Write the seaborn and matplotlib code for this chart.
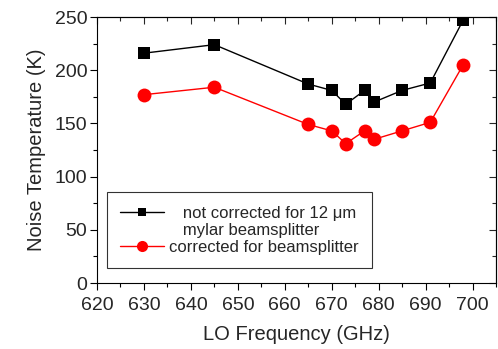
import pandas as pd
import numpy as np
import matplotlib
matplotlib.use('Agg')
import matplotlib.pyplot as plt
import seaborn as sns
from matplotlib.ticker import MultipleLocator
from matplotlib.lines import Line2D

freq = [630, 645, 665, 670, 673, 677, 679, 685, 691, 698]
t_raw = [216, 224, 187, 181, 168, 181, 170, 181, 188, 247]
t_corr = [177, 184, 149, 143, 131, 143, 135, 143, 151, 205]

lab_raw = 'not corrected'
lab_corr = 'corrected'

df = pd.DataFrame({'freq': freq * 2,
                   'T': t_raw + t_corr,
                   'set': [lab_raw] * len(freq) + [lab_corr] * len(freq)})

sns.set_style('ticks')
plt.rcParams['font.family'] = ['Liberation Sans', 'DejaVu Sans']

fig = plt.figure(figsize=(4.98, 3.49), dpi=100)
ax = fig.add_axes([97 / 498, 1 - 283 / 349, 399 / 498, 266 / 349])

sns.lineplot(data=df[df['set'] == lab_raw], x='freq', y='T', color='black',
             marker='s', markersize=8.6, markeredgewidth=0, linewidth=1.0,
             legend=False, ax=ax)
sns.lineplot(data=df[df['set'] == lab_corr], x='freq', y='T', color='red',
             marker='o', markersize=10, markeredgewidth=0, linewidth=1.0,
             legend=False, ax=ax)

ax.set_xlim(620, 705)
ax.set_ylim(0, 250)
ax.xaxis.set_major_locator(MultipleLocator(10))
ax.xaxis.set_minor_locator(MultipleLocator(5))
ax.yaxis.set_major_locator(MultipleLocator(50))
ax.yaxis.set_minor_locator(MultipleLocator(25))
ax.tick_params(which='both', direction='out', labelsize=14, color='black',
               width=0.8)
ax.tick_params(which='major', length=5)
ax.tick_params(which='minor', length=3)
ax.tick_params(axis='x', pad=5)
ax.tick_params(axis='y', pad=2)
# inward ticks on top and right, like the original
sec_x = ax.secondary_xaxis('top')
sec_y = ax.secondary_yaxis('right')
for sa in (sec_x, sec_y):
    sa.tick_params(which='both', direction='in', labelsize=0, width=0.8)
    sa.tick_params(which='major', length=5)
    sa.tick_params(which='minor', length=3)
sec_x.xaxis.set_major_locator(MultipleLocator(10))
sec_x.xaxis.set_minor_locator(MultipleLocator(5))
sec_y.yaxis.set_major_locator(MultipleLocator(50))
sec_y.yaxis.set_minor_locator(MultipleLocator(25))
sec_x.set_xticklabels([])
sec_y.set_yticklabels([])
for s in list(ax.spines.values()):
    s.set_color('black')
    s.set_linewidth(0.8)

ax.set_xlabel('LO Frequency (GHz)', fontsize=14.5, labelpad=8)
ax.set_ylabel('Noise Temperature (K)', fontsize=14.5, labelpad=6)

handles = [
    Line2D([], [], color='black', marker='s', markersize=6, lw=1.0, markeredgewidth=0),
    Line2D([], [], linestyle='none', marker='none'),
    Line2D([], [], color='red', marker='o', markersize=8, lw=1.0, markeredgewidth=0),
]
labels = ['   not corrected for 12 \u03bcm', '   mylar beamsplitter',
          'corrected for beamsplitter']
leg = ax.legend(handles, labels, loc='lower left', bbox_to_anchor=(0.025, 0.056),
                borderaxespad=0, fontsize=12, frameon=True, fancybox=False,
                edgecolor='black', borderpad=0.8, handlelength=2.6,
                handletextpad=0.3, labelspacing=0.12)
leg.get_frame().set_linewidth(0.8)

fig.savefig('out.png', dpi=100)
